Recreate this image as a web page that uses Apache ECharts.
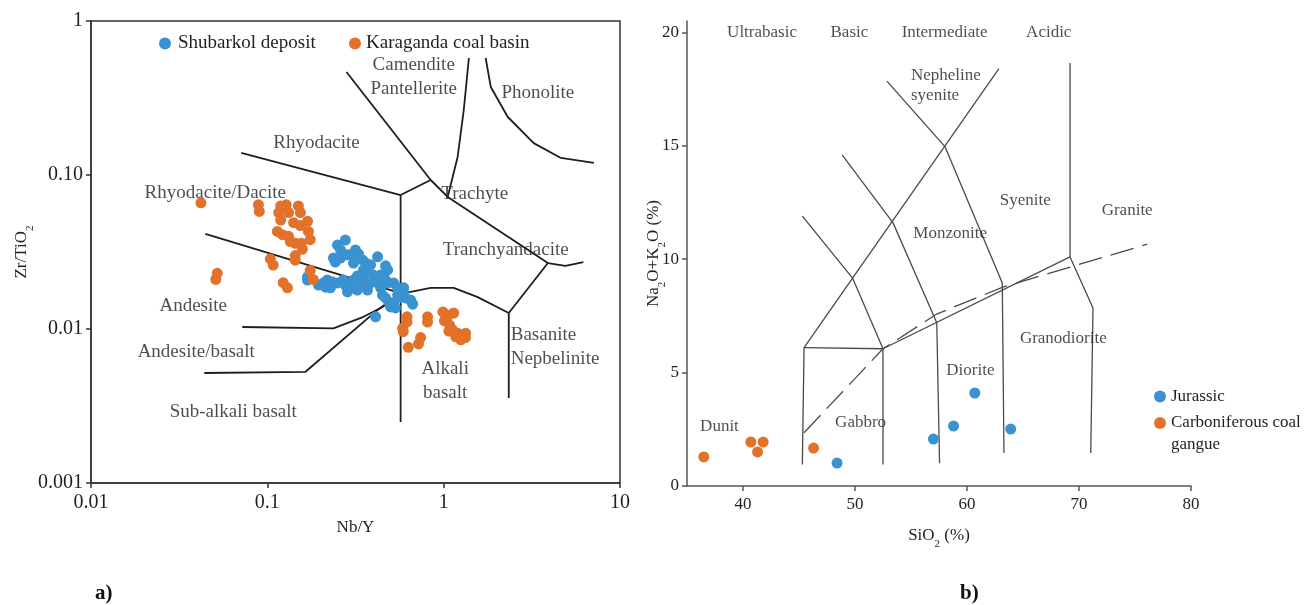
<!DOCTYPE html>
<html>
<head>
<meta charset="utf-8">
<title>Zr/TiO2 – Nb/Y and TAS diagrams</title>
<script src="https://cdn.jsdelivr.net/npm/echarts@6/dist/echarts.min.js"></script>
<style>
  html, body { margin: 0; padding: 0; background: #ffffff; }
  #chart { width: 1315px; height: 605px; }
</style>
</head>
<body>
<div id="chart"></div>
<script>
// ---------- Panel a: Zr/TiO2 vs Nb/Y (Winchester & Floyd) ----------
const shubarkol = [
  [0.277,0.0378],[0.250,0.0351],[0.260,0.0326],[0.316,0.0326],[0.329,0.0307],[0.296,0.0303],
  [0.237,0.0289],[0.243,0.0272],[0.347,0.0281],[0.361,0.0268],[0.422,0.0294],[0.468,0.0257],
  [0.481,0.0242],[0.351,0.0242],[0.370,0.0234],[0.324,0.0221],[0.400,0.0224],[0.422,0.0218],
  [0.439,0.0224],[0.169,0.0218],[0.169,0.0208],[0.219,0.0208],[0.234,0.0202],[0.250,0.0199],
  [0.214,0.0187],[0.228,0.0185],[0.270,0.0208],[0.277,0.0193],[0.308,0.0208],[0.308,0.0190],
  [0.347,0.0214],[0.351,0.0199],[0.370,0.0179],[0.285,0.0174],[0.324,0.0179],[0.422,0.0199],
  [0.439,0.0185],[0.468,0.0208],[0.481,0.0199],[0.520,0.0199],[0.548,0.0185],[0.450,0.0166],
  [0.468,0.0159],[0.488,0.0150],[0.500,0.0139],[0.548,0.0166],[0.570,0.0161],[0.593,0.0171],
  [0.608,0.0159],[0.650,0.0154],[0.667,0.0145],[0.520,0.0148],[0.533,0.0137],[0.411,0.0120],
  [0.285,0.0303],[0.308,0.0268],[0.385,0.0261],[0.456,0.0224],[0.593,0.0185],[0.385,0.0199],
  [0.208,0.0199],[0.260,0.0289],[0.195,0.0193]
];
const karaganda = [
  [0.042,0.066],[0.089,0.064],[0.090,0.058],[0.119,0.063],[0.128,0.064],[0.150,0.063],
  [0.154,0.057],[0.116,0.057],[0.119,0.051],[0.132,0.057],[0.141,0.049],[0.154,0.047],
  [0.169,0.050],[0.171,0.043],[0.175,0.038],[0.114,0.043],[0.122,0.041],[0.132,0.040],
  [0.135,0.037],[0.144,0.036],[0.156,0.036],[0.158,0.033],[0.144,0.030],[0.144,0.028],
  [0.104,0.0285],[0.108,0.026],[0.052,0.023],[0.051,0.021],[0.123,0.020],[0.130,0.0185],
  [0.175,0.024],[0.182,0.021],
  [0.62,0.0120],[0.62,0.0111],[0.585,0.0101],[0.59,0.0096],[0.81,0.0120],[0.81,0.0111],
  [0.74,0.0088],[0.72,0.0080],[0.63,0.0076],[0.99,0.0129],[1.07,0.0123],[1.14,0.0127],
  [1.01,0.0113],[1.08,0.0106],[1.12,0.0099],[1.20,0.0094],[1.07,0.0097],[1.17,0.0089],
  [1.25,0.0085],[1.33,0.0094],[1.33,0.0088]
];
// field boundaries, each a polyline in (Nb/Y, Zr/TiO2)
const boundariesA = [
  [[0.0711,0.139],[0.57,0.0741]],
  [[0.57,0.0741],[0.844,0.0928]],
  [[0.57,0.0741],[0.57,0.00249]],
  [[0.281,0.466],[0.844,0.0928],[1.054,0.072],[3.90,0.0268]],
  [[1.39,0.575],[1.30,0.264],[1.20,0.131],[1.054,0.072]],
  [[1.73,0.575],[1.85,0.373],[2.31,0.238],[3.24,0.161],[4.62,0.129],[7.11,0.120]],
  [[3.90,0.0268],[4.9,0.0257],[6.2,0.0272]],
  [[3.90,0.0268],[2.34,0.0127],[2.34,0.00356]],
  [[0.57,0.0171],[0.65,0.0174],[0.844,0.0185],[1.14,0.0185],[1.56,0.0161],[2.34,0.0127]],
  [[0.0445,0.0414],[0.57,0.0171]],
  [[0.0721,0.0103],[0.237,0.0101],[0.351,0.0120],[0.450,0.0139],[0.57,0.0171]],
  [[0.0439,0.00518],[0.164,0.00526],[0.422,0.0133],[0.57,0.0171]]
];
// rock field names: [name, Nb/Y, Zr/TiO2, text align]
const fieldsA = [
  ['Camendite\nPantellerite', 0.676, 0.433],
  ['Phonolite', 3.42, 0.341],
  ['Rhyodacite', 0.190, 0.161],
  ['Rhyodacite/Dacite', 0.0507, 0.0764],
  ['Trachyte', 1.50, 0.0753],
  ['Tranchyandacite', 2.25, 0.0326],
  ['Andesite', 0.038, 0.0141],
  ['Andesite/basalt', 0.0395, 0.0071],
  ['Sub-alkali basalt', 0.0641, 0.00289],
  ['Basanite\nNepbelinite', 2.40, 0.00764, 'left'],
  ['Alkali\nbasalt', 1.02, 0.00459]
];
const xTicksA = ['0.01', '0.1', '1', '10'];
const yTicksA = ['0.001', '0.01', '0.10', '1'];

// ---------- Panel b: total alkali vs silica ----------
const jurassic = [[48.4,1.01],[57.0,2.07],[58.8,2.64],[60.7,4.10],[63.9,2.51]];
const carboniferous = [[36.5,1.28],[40.7,1.94],[41.8,1.94],[41.3,1.50],[46.3,1.67]];
const boundariesB = [
  [[45.3,11.9],[49.8,9.15],[52.5,6.05]],
  [[48.85,14.6],[53.4,11.6],[57.3,7.2],[57.55,1.0]],
  [[45.45,6.1],[62.85,18.4]],
  [[52.85,17.85],[58.05,14.95],[63.15,8.95],[63.3,1.45]],
  [[69.2,18.65],[69.2,10.1],[71.25,7.85],[71.05,1.45]],
  [[45.45,6.1],[45.3,0.95]],
  [[45.45,6.1],[52.5,6.05],[52.5,0.95]],
  [[52.5,6.05],[69.2,10.1]]
];
const alkalineDivide = [[45.45,2.35],[52.5,6.05],[57.3,7.58],[63.2,8.77],[69.2,9.65],[76.1,10.66]];
const fieldsB = [
  ['Ultrabasic', 41.7, 20.0],
  ['Basic', 49.5, 20.0],
  ['Intermediate', 58.0, 20.0],
  ['Acidic', 67.3, 20.0],
  ['Nepheline\nsyenite', 55.0, 17.67, 'left'],
  ['Monzonite', 58.5, 11.15],
  ['Syenite', 65.2, 12.6],
  ['Granite', 74.3, 12.16],
  ['Granodiorite', 68.6, 6.52],
  ['Diorite', 60.3, 5.07],
  ['Gabbro', 50.5, 2.78],
  ['Dunit', 37.9, 2.64]
];
const xTicksB = [40, 50, 60, 70, 80];
const yTicksB = [0, 5, 10, 15, 20];

// ---------- styling ----------
const SERIF = '"Liberation Serif", "Times New Roman", serif';
const BLUE = '#3a92d1';
const ORANGE = '#e2722a';
const TEXT = '#1f1f1f';

function boundarySeries(lines, axis, color, width, dash) {
  return lines.map(pts => ({
    type: 'line', xAxisIndex: axis, yAxisIndex: axis, data: pts,
    showSymbol: false, symbol: 'none', silent: true, z: 2,
    lineStyle: { color: color, width: width, type: dash || 'solid' }
  }));
}
function fieldLabelSeries(list, axis, size, lh) {
  return {
    type: 'scatter', xAxisIndex: axis, yAxisIndex: axis, silent: true, z: 3,
    symbol: 'circle', symbolSize: 1, itemStyle: { color: 'rgba(0,0,0,0)' },
    data: list.map(([name, x, y, align]) => ({
      value: [x, y], name: name, label: { align: align || 'center' }
    })),
    label: {
      show: true, position: 'inside', formatter: p => p.name,
      color: TEXT, fontFamily: SERIF, fontSize: size, lineHeight: lh
    }
  };
}
function pointSeries(name, data, axis, color) {
  return {
    type: 'scatter', name: name, xAxisIndex: axis, yAxisIndex: axis, data: data,
    symbol: 'circle', symbolSize: 11, z: 10,
    itemStyle: { color: color, opacity: 1 }
  };
}
function subRich(size) {
  return {
    n: { fontFamily: SERIF, fontSize: size, color: TEXT, lineHeight: 20 },
    s: { fontFamily: SERIF, fontSize: 11, color: TEXT, lineHeight: 20, verticalAlign: 'bottom', padding: [0, 0, -4, 0] }
  };
}
const decadeIndex = v => Math.round(Math.log10(v));
const legendBase = { itemWidth: 12, itemHeight: 12, icon: 'circle', padding: 0, itemGap: 0 };

const chart = echarts.init(document.getElementById('chart'), null, { renderer: 'canvas' });
chart.setOption({
  backgroundColor: '#ffffff',
  animation: false,
  title: [
    { text: 'a)', left: 90, top: 578, textStyle: { fontFamily: SERIF, fontSize: 21, fontWeight: 'bold', color: '#111' } },
    { text: 'b)', left: 955, top: 578, textStyle: { fontFamily: SERIF, fontSize: 21, fontWeight: 'bold', color: '#111' } }
  ],
  legend: [
    Object.assign({ data: ['Shubarkol deposit'], left: 159, top: 34,
      textStyle: { fontFamily: SERIF, fontSize: 19, color: TEXT, padding: [0, 0, 0, 2] } }, legendBase),
    Object.assign({ data: ['Karaganda coal basin'], left: 349, top: 34,
      textStyle: { fontFamily: SERIF, fontSize: 19, color: TEXT } }, legendBase),
    Object.assign({ data: ['Jurassic'], left: 1154, top: 388,
      textStyle: { fontFamily: SERIF, fontSize: 17, color: TEXT } }, legendBase),
    // a blank leading line keeps the first text line level with the marker
    Object.assign({ data: ['Carboniferous coal gangue'], left: 1154, top: 390,
      formatter: n => ' \n' + n.replace(' gangue', '\ngangue'),
      textStyle: { fontFamily: SERIF, fontSize: 17, color: TEXT, lineHeight: 22 } }, legendBase)
  ],
  grid: [
    { left: 91, top: 21, width: 529, height: 462, show: true, borderColor: '#333', borderWidth: 1.5, backgroundColor: 'transparent' },
    { left: 687, top: 21, width: 504, height: 465 }
  ],
  xAxis: [
    {
      type: 'log', logBase: 10, min: 0.01, max: 10, gridIndex: 0,
      name: 'Nb/Y', nameLocation: 'middle', nameGap: 36, nameMoveOverlap: false,
      nameTextStyle: { fontFamily: SERIF, fontSize: 17, color: TEXT },
      axisLine: { show: true, lineStyle: { color: '#333', width: 1.5 } },
      axisTick: { show: true, length: 5, lineStyle: { color: '#333', width: 1.5 } },
      minorTick: { show: false }, splitLine: { show: false }, minorSplitLine: { show: false },
      axisLabel: { fontFamily: SERIF, fontSize: 20, color: TEXT, margin: 10,
        formatter: v => xTicksA[decadeIndex(v) + 2] }
    },
    {
      type: 'value', min: 35, max: 80, gridIndex: 1,
      name: '{n|SiO}{s|2}{n| (%)}', nameLocation: 'middle', nameGap: 40, nameMoveOverlap: false,
      nameTextStyle: { fontFamily: SERIF, color: TEXT, rich: subRich(17) },
      axisLine: { show: true, lineStyle: { color: '#555', width: 1.5 } },
      axisTick: { show: true, length: 5, customValues: xTicksB, lineStyle: { color: '#555', width: 1.5 } },
      splitLine: { show: false },
      axisLabel: { fontFamily: SERIF, fontSize: 17, color: TEXT, margin: 10, customValues: xTicksB }
    }
  ],
  yAxis: [
    {
      type: 'log', logBase: 10, min: 0.001, max: 1, gridIndex: 0,
      name: '{n|Zr/TiO}{s|2}', nameLocation: 'middle', nameGap: 59, nameMoveOverlap: false,
      nameTextStyle: { fontFamily: SERIF, color: TEXT, rich: subRich(17) },
      axisLine: { show: true, lineStyle: { color: '#333', width: 1.5 } },
      axisTick: { show: true, length: 5, lineStyle: { color: '#333', width: 1.5 } },
      minorTick: { show: false }, splitLine: { show: false }, minorSplitLine: { show: false },
      axisLabel: { fontFamily: SERIF, fontSize: 20, color: TEXT, margin: 8,
        formatter: v => yTicksA[decadeIndex(v) + 3] }
    },
    {
      type: 'value', min: 0, max: 20.5, gridIndex: 1,
      name: '{n|Na}{s|2}{n|O+K}{s|2}{n|O (%)}', nameLocation: 'middle', nameGap: 23, nameMoveOverlap: false,
      nameTextStyle: { fontFamily: SERIF, color: TEXT, rich: subRich(17) },
      axisLine: { show: true, lineStyle: { color: '#555', width: 1.5 } },
      axisTick: { show: true, length: 5, customValues: yTicksB, lineStyle: { color: '#555', width: 1.5 } },
      splitLine: { show: false },
      axisLabel: { fontFamily: SERIF, fontSize: 17, color: TEXT, margin: 8, customValues: yTicksB }
    }
  ],
  series: [
    ...boundarySeries(boundariesA, 0, '#1e1e1e', 1.8),
    fieldLabelSeries(fieldsA, 0, 19, 24),
    pointSeries('Shubarkol deposit', shubarkol, 0, BLUE),
    pointSeries('Karaganda coal basin', karaganda, 0, ORANGE),
    ...boundarySeries(boundariesB, 1, '#4a4a4a', 1.3),
    ...boundarySeries([alkalineDivide], 1, '#4a4a4a', 1.3, [24, 9]),
    fieldLabelSeries(fieldsB, 1, 17, 20),
    pointSeries('Jurassic', jurassic, 1, BLUE),
    pointSeries('Carboniferous coal gangue', carboniferous, 1, ORANGE)
  ]
});
</script>
</body>
</html>
